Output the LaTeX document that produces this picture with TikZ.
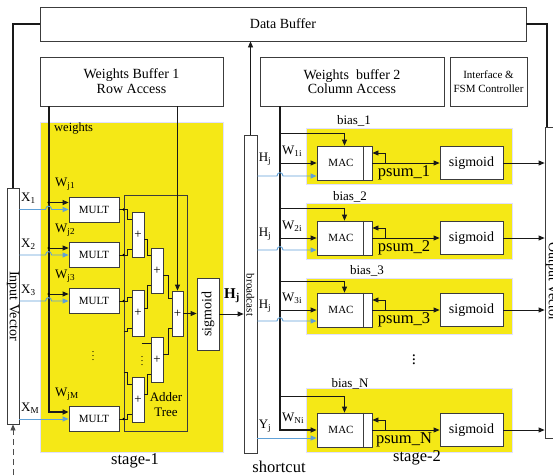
\documentclass[tikz,border=0pt]{standalone}
\usepackage{fontspec}
\setmainfont{Liberation Serif}
\usetikzlibrary{arrows.meta,calc}
\definecolor{ylw}{RGB}{245,232,22}
\definecolor{blu}{RGB}{95,160,215}
\definecolor{bcol}{RGB}{60,60,60}
\tikzset{
 box/.style={draw=bcol,line width=0.8pt,fill=white,inner sep=0pt,align=center},
 frame/.style={draw=bcol,line width=0.8pt,inner sep=0pt},
 arr/.style={-{Triangle[length=6pt,width=5pt]}},
 ln/.style={line width=0.8pt,draw=black!90},
 thk/.style={line width=1.8pt,draw=black!90},
 bl/.style={draw=blu,line width=0.9pt},
 yl/.style={fill=ylw,draw=blue!12,line width=0.5pt},
 f11/.style={font=\fontsize{11}{13}\selectfont},
 f12/.style={font=\fontsize{12.5}{14}\selectfont},
 f13/.style={font=\fontsize{13}{15}\selectfont},
 f14/.style={font=\fontsize{14}{15}\selectfont},
 f16/.style={font=\fontsize{16.5}{18}\selectfont},
 txt/.style={inner sep=0pt},
}
\begin{document}
\begin{tikzpicture}[x=1pt,y=-1pt]
\useasboundingbox (0,0) rectangle (553,475);
% yellow areas
\path[yl] (40,122) rectangle (223,452);
\path[yl] (306,128) rectangle (512,184);
\path[yl] (306,203) rectangle (512,259);
\path[yl] (306,278) rectangle (512,334);
\path[yl] (306,388) rectangle (512,452);

% top boxes
\node[box,minimum width=486,minimum height=34,f14] (databuf) at (283,24) {Data Buffer};
\node[box,minimum width=183,minimum height=49,f14] (wb1) at (131.5,81.5) {Weights Buffer 1\\Row Access};
\node[box,minimum width=184,minimum height=49,font=\fontsize{14}{12.5}\selectfont] (wb2) at (352,81.5) {Weights\ \ buffer 2\\Column Access};
\node[box,minimum width=77,minimum height=49,font=\fontsize{11}{14}\selectfont] (fsm) at (488.5,81.5) {Interface \&\\FSM Controller};

% side vectors
\node[box,minimum width=12,minimum height=236] (invec) at (13,306) {};
\node[txt,rotate=-90,f14] (invect) at (invec.center) {Input Vector};
\node[box,minimum width=17,minimum height=311] (outvec) at (553.5,282.5) {};
\node[txt,rotate=-90,f14] (outvect) at (552,282) {Output Vector};
\node[box,minimum width=13,minimum height=318] (bcast) at (250.5,294) {};
\node[txt,rotate=-90,f11] (bcastt) at (250.5,295) {broadcast};

\coordinate (ovtop) at (547,127);
\coordinate (dsrc) at (13,475);
\draw[thk] (databuf.west) -| (invec.north);
\draw[thk] (databuf.east) -| (ovtop);
\draw[ln,dashed,draw=black!70,dash pattern=on 6pt off 4pt,arr] (dsrc) -- (invec.south);
\draw[ln,arr] (bcast.north) -- (bcast.north |- databuf.south);

% ---------------- stage 1
\node[txt,f12,anchor=west] (wlab) at (54,129) {weights};
\foreach \i/\y in {1/209.5,2/255,3/301,M/419}{
  \node[box,minimum width=50,minimum height=25,f11] (m\i) at (94,\y) {MULT};
  \node[txt,f13,anchor=west] (wl\i) at (55,\y-25) {W\textsubscript{j\i}};
  \node[txt,f13,anchor=west] (xl\i) at (21,\y-11) {X\textsubscript{\i}};
}
\coordinate (wx) at (49,0);
\draw[thk,arr] (wb1.south -| wx) |- ($(mM.west)+(0,-7)$);
\foreach \i in {1,2,3}{
  \draw[ln,arr] ($(m\i.west)+(-20,-7)$) -- ($(m\i.west)+(0,-7)$);
  \fill ($(m\i.west)+(-20,-7)$) circle (1.2);
  \draw[bl,arr] (invec.east |- m\i.west) -- ($(m\i.west)+(-23,0)$)
     .. controls ($(m\i.west)+(-23,-4.5)$) and ($(m\i.west)+(-17,-4.5)$) .. ($(m\i.west)+(-17,0)$) -- (m\i.west);
}
\draw[bl,arr] (invec.east |- mM.west) -- (mM.west);
\node[txt] (vd1) at (93,353) {$\vdots$};

% adder tree
\node[frame,minimum width=63,minimum height=236] (adder) at (155.5,313) {};
\node[box,minimum width=12,minimum height=45,f13] (a1) at (138,234.5) {+};
\node[box,minimum width=12,minimum height=46,f13] (a2) at (138,313) {+};
\node[box,minimum width=12,minimum height=45,f13] (a3) at (138,399.5) {+};
\node[box,minimum width=12,minimum height=45,f13] (b1) at (157,270.5) {+};
\node[box,minimum width=12,minimum height=45,f13] (b2) at (157,359.5) {+};
\node[box,minimum width=11,minimum height=45,f13] (c) at (177.5,313.5) {+};
\foreach \i in {1,2,3,M}{
  \draw[ln] (m\i.east) -- (adder.west |- m\i.east);
  \fill (adder.west |- m\i.east) circle (1.3);
}
\draw[ln] (adder.west |- m1.east) -- ++(4,0) |- ($(a1.north west)+(0,8)$);
\draw[ln] (adder.west |- m2.east) -- ++(4,0) |- ($(a1.south west)+(0,-8)$);
\draw[ln] (adder.west |- m3.east) -- ++(4,0) |- ($(a2.north west)+(0,8)$);
\draw[ln] (adder.west |- 0,331) -- ++(4,0) |- ($(a2.south west)+(0,-8)$);
\draw[ln] (adder.west |- 0,372) -- ++(4,0) |- ($(a3.north west)+(0,8)$);
\draw[ln] (adder.west |- mM.east) -- ++(4,0) |- ($(a3.south west)+(0,-8)$);
\draw[ln] ($(a1.east)+(0,5)$) -- ++(3,0) |- ($(b1.north west)+(0,8)$);
\draw[ln] ($(a2.east)+(0,-5)$) -- ++(3,0) |- ($(b1.south west)+(0,-8)$);
\draw[ln] ($(b2.north west)+(-9,7)$) -- ++(9,0);
\draw[ln] ($(a3.east)+(0,-5)$) -- ++(3,0) |- ($(b2.south west)+(0,-8)$);
\draw[ln] ($(b1.east)+(0,5)$) -- ++(4.5,0) |- ($(c.north west)+(0,8)$);
\draw[ln] ($(b2.east)+(0,-5)$) -- ++(4.5,0) |- ($(c.south west)+(0,-8)$);
\draw[ln,arr] (wb1.south -| c.north) -- (c.north);
\node[txt] (vd2) at (142,358) {$\vdots$};
\node[txt,f13,align=center,font=\fontsize{13}{15}\selectfont] (atl) at (166,405) {Adder\\Tree};

\node[box,minimum width=22,minimum height=72] (sig1) at (208,314) {};
\node[txt,rotate=90,f14] (sig1t) at (sig1.center) {sigmoid};
\draw[ln,arr] (c.east) -- (c.east -| sig1.west);
\draw[ln,arr] (sig1.east) -- (sig1.east -| bcast.west);
\node[txt,font=\fontsize{15}{17}\selectfont\bfseries] (hj) at (232,296) {H\textsubscript{j}};
\node[txt,f16] (st1) at (135,461) {stage-1};

% ---------------- stage 2
\coordinate (vx) at (280,0);
\foreach \n/\c/\by/\bx/\bly/\blx/\hl in {1/163/133/354/176/121/H,2/238/208/350/250/197/H,3/310/281/367/321/271/H,N/430/396/350/438/384/Y}{
  \node[box,minimum width=55,minimum height=34] (mac\n) at (344.5,\c) {};
  \node[txt,f11] (mact\n) at (341,\c) {MAC};
  \draw[draw=bcol,line width=0.8pt] ($(mac\n.north east)+(-9,0)$) -- ($(mac\n.south east)+(-9,0)$);
  \node[box,minimum width=63,minimum height=33,f14] (sg\n) at (471.5,\c) {sigmoid};
  \draw[ln,arr] (vx |- 0,\by) -| (mac\n.north);
  \node[txt,f13] (bias\n) at (\bx,\blx) {bias\_\n};
  \node[txt,f13,anchor=west] (wn\n) at (282,\c-12) {W\textsubscript{\n i}};
  \node[txt,f13] (hn\n) at (265,\c-4) {\hl\textsubscript{j}};
  \draw[ln,arr] (mac\n.east) -- (sg\n.west);
  \draw[ln,arr] ($(mac\n.east)+(13,0)$) |- ($(mac\n.east)+(0,-10)$);
  \node[txt,f16] (ps\n) at (404,\c+10) {psum\_\n};
  \draw[ln,arr] (sg\n.east) -- (sg\n.east -| outvec.west);
}
\draw[thk,arr] (wb2.south -| vx) |- (macN.west);
\foreach \n in {1,2,3}{
  \draw[ln,arr] (vx |- mac\n.west) -- (mac\n.west);
}
\foreach \n/\bly in {1/176,2/250,3/321}{
  \draw[bl,arr] (bcast.east |- 0,\bly) -- (277,\bly)
     .. controls (277,\bly-4.5) and (283,\bly-4.5) .. (283,\bly) -- (mac\n.west |- 0,\bly);
}
\draw[bl,arr] (bcast.east |- 0,438) -- (macN.west |- 0,438);
\node[txt,f16] (vd3) at (414,357) {$\vdots$};
\node[txt,f16] (st2) at (417,458) {stage-2};
\node[txt,f16] (sc) at (279,467) {shortcut};
\end{tikzpicture}
\end{document}
